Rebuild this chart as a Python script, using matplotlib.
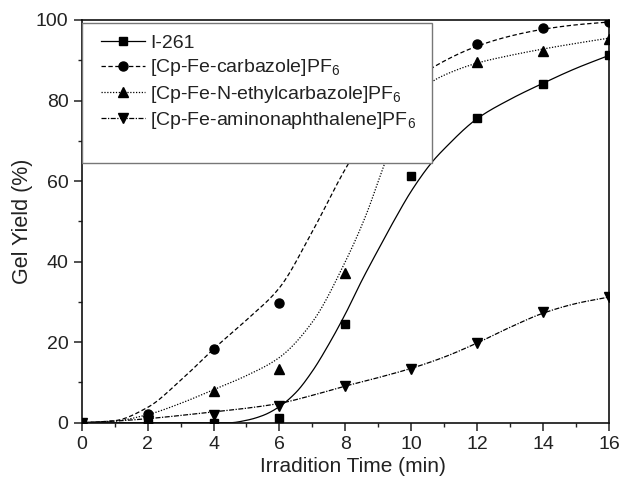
import numpy as np
import matplotlib
matplotlib.use("Agg")
import matplotlib.pyplot as plt
from matplotlib.patches import Rectangle
from matplotlib.ticker import MultipleLocator

plt.rcParams['font.family'] = ['Liberation Sans', 'DejaVu Sans']
plt.rcParams['mathtext.fontset'] = 'custom'
plt.rcParams['mathtext.rm'] = 'Liberation Sans'
plt.rcParams['mathtext.default'] = 'regular'

# ---- data (measured points) ----
x_pts = [0, 2, 4, 6, 8, 10, 12, 14, 16]
i261 = [0, 0.3, 0.0, 1.2, 24.5, 61.3, 75.6, 84.2, 91.3]
carb = [0, 2.2, 18.3, 29.8, 68, 89, 94.0, 97.9, 99.6]
ethcarb = [0, 0.6, 7.9, 13.4, 37.3, 78, 89.6, 92.4, 95.4]
aminon = [0, 0.5, 1.8, 4.2, 9.1, 13.4, 19.8, 27.4, 31.2]

# ---- fitted curves (knots) ----
i261_fx = [0, 4.5, 5, 5.5, 6, 6.5, 7, 7.5, 8, 8.5, 9, 9.5, 10, 10.62, 11, 12, 13, 14, 15, 16]
i261_fy = [0, 0, 0.6, 1.8, 4, 7.5, 12.8, 19.5, 27, 35.3, 43, 50.5, 57.5, 64.6, 68, 75.5, 80.3, 84.3, 88, 91.2]
carb_fx = [0, 1, 2, 3, 4, 5, 6, 7, 8, 9, 10, 11, 12, 13, 14, 15, 16]
carb_fy = [0, 0.5, 3.8, 10.5, 18.3, 25.5, 33.5, 47.5, 63, 76, 84.5, 89.8, 93.5, 96, 97.7, 98.8, 99.5]
eth_fx = [0, 1, 2, 3, 4, 5, 6, 7, 8, 8.6, 9.2, 9.7, 10.1, 10.6, 11, 12, 13, 14, 15, 16]
eth_fy = [0, 0.4, 2, 4.8, 8.2, 11.7, 16.2, 25, 40, 51, 64.5, 75, 80.5, 84.5, 86.3, 89.3, 91.2, 92.8, 94.2, 95.5]
am_fx = [0, 1, 2, 3, 4, 5, 6, 7, 8, 9, 10, 11, 12, 13, 14, 15, 16]
am_fy = [0, 0.4, 1.0, 1.8, 2.7, 3.6, 4.8, 6.8, 9.1, 11.2, 13.5, 16.3, 19.8, 23.7, 27.2, 29.6, 31.2]

labels = ['I-261', '[Cp-Fe-carbazole]PF$_6$', '[Cp-Fe-N-ethylcarbazole]PF$_6$',
          '[Cp-Fe-aminonaphthalene]PF$_6$']


def pchip(x, y, xn):
    x = np.asarray(x, float); y = np.asarray(y, float)
    h = np.diff(x); d = np.diff(y) / h
    n = len(x)
    m = np.zeros(n)
    for k in range(1, n - 1):
        if d[k - 1] * d[k] <= 0:
            m[k] = 0.0
        else:
            w1 = 2 * h[k] + h[k - 1]
            w2 = h[k] + 2 * h[k - 1]
            m[k] = (w1 + w2) / (w1 / d[k - 1] + w2 / d[k])
    m[0] = d[0]
    m[-1] = d[-1]
    idx = np.clip(np.searchsorted(x, xn) - 1, 0, n - 2)
    t = (xn - x[idx]) / h[idx]
    h00 = 2 * t**3 - 3 * t**2 + 1
    h10 = t**3 - 2 * t**2 + t
    h01 = -2 * t**3 + 3 * t**2
    h11 = t**3 - t**2
    return h00 * y[idx] + h10 * h[idx] * m[idx] + h01 * y[idx + 1] + h11 * h[idx] * m[idx + 1]


fig = plt.figure(figsize=(6.23, 4.83), dpi=100)
ax = fig.add_axes([0.1311, 0.1248, 0.8464, 0.8338])

xs = np.linspace(0, 16, 600)
styles = [
    dict(ls='-', marker='s', ms=5.8, fx=i261_fx, fy=i261_fy, y=i261),
    dict(ls=(0, (3.5, 2.0)), marker='o', ms=6.5, fx=carb_fx, fy=carb_fy, y=carb),
    dict(ls=(0, (1.0, 1.3)), marker='^', ms=6.8, fx=eth_fx, fy=eth_fy, y=ethcarb),
    dict(ls=(0, (4.0, 1.2, 1.0, 1.2)), marker='v', ms=6.8, fx=am_fx, fy=am_fy, y=aminon),
]
handles = []
for st, lab in zip(styles, labels):
    ax.plot(xs, pchip(st['fx'], st['fy'], xs), color='black', lw=0.9, ls=st['ls'], zorder=2)
    ax.plot(x_pts, st['y'], ls='none', marker=st['marker'], ms=st['ms'], color='black', zorder=3)
    h, = ax.plot([], [], color='black', lw=0.9, ls=st['ls'], marker=st['marker'], ms=st['ms'])
    handles.append(h)

ax.set_xlim(0, 16)
ax.set_ylim(0, 100)
ax.xaxis.set_major_locator(MultipleLocator(2))
ax.xaxis.set_minor_locator(MultipleLocator(1))
ax.yaxis.set_major_locator(MultipleLocator(20))
ax.yaxis.set_minor_locator(MultipleLocator(10))
ax.tick_params(which='major', direction='out', length=6, width=1.1, labelsize=14,
               pad=3.5, colors='#222222', top=False, right=False)
ax.tick_params(which='minor', direction='out', length=3, width=1.0, top=False, right=False,
               colors='#222222')
for sp in ax.spines.values():
    sp.set_linewidth(1.2)
    sp.set_color('#111111')

ax.set_xlabel('Irradition Time (min)', fontsize=15, color='#222222', labelpad=2)
ax.xaxis.set_label_coords(0.515, -0.085)
ax.set_ylabel('Gel Yield (%)', fontsize=15.5, color='#222222', labelpad=2)

# legend box
box = Rectangle((0, 0.6456), 0.6637, 0.9926 - 0.6456, transform=ax.transAxes,
                facecolor='white', edgecolor='#777777', lw=1.0, zorder=4)
ax.add_patch(box)
leg = ax.legend(handles, labels, loc='upper left', bbox_to_anchor=(0.036, 0.964),
                frameon=False, borderpad=0, borderaxespad=0, handlelength=2.3,
                handletextpad=0.25, labelspacing=0.27, fontsize=14, numpoints=1)
leg.set_zorder(5)
for t in leg.get_texts():
    t.set_color('#222222')

fig.savefig('out.png', dpi=100)
